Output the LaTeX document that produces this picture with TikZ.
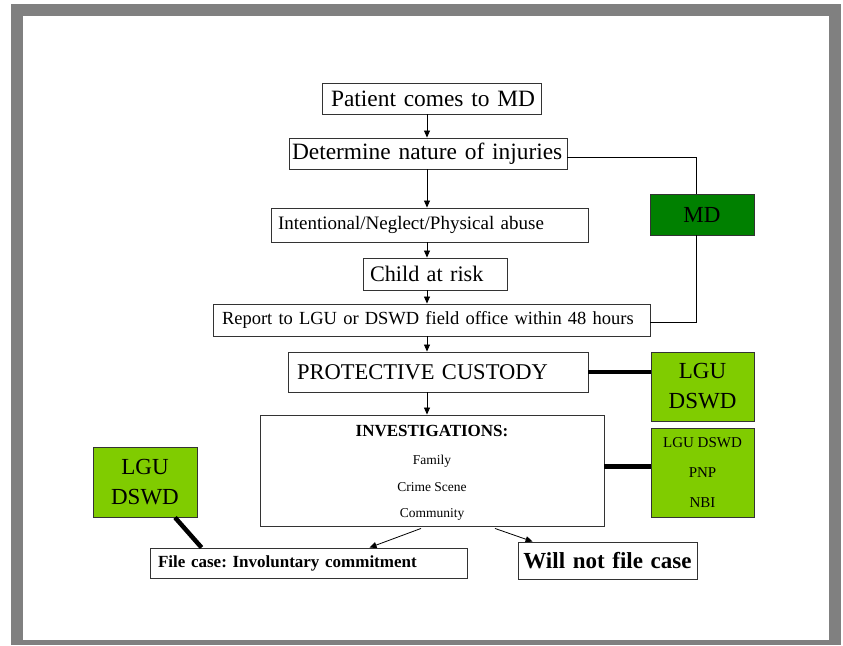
\documentclass[tikz,border=0pt]{standalone}
\usepackage{fontspec}
\setmainfont{Liberation Serif}
\frenchspacing
\usetikzlibrary{arrows.meta, positioning, calc}
\definecolor{mdgreen}{RGB}{0,128,0}
\definecolor{lgugreen}{RGB}{128,204,0}
\definecolor{framegray}{RGB}{128,128,128}
\tikzset{
    flowbox/.style={draw=black!80, line width=0.9pt, fill=white, inner ysep=0pt, inner xsep=8pt, align=left},
    agencybox/.style={draw=black!80, line width=0.9pt, fill=lgugreen, inner sep=0pt, align=center,
        minimum width=103pt},
    arr/.style={line width=0.8pt, -{Triangle[length=7pt,width=6pt]}},
    link/.style={line width=0.8pt},
    heavy/.style={line width=4.5pt}
}
\begin{document}
\begin{tikzpicture}[x=1pt, y=-1pt]
    \useasboundingbox (0,0) rectangle (843,645);
    \fill[framegray] (11,4) rectangle (841,645);
    \fill[white] (23,16) rectangle (829,640);
    \coordinate (spine) at (427,0);
    % main column
    \node[flowbox, text width=201pt, inner xsep=9pt, minimum height=31pt, font=\fontsize{23.4}{28}\selectfont]
        (pat) at (431.5,98.5) {\mbox{Patient comes to MD}};
    \node[flowbox, text width=272pt, inner xsep=3pt, minimum height=31pt, font=\fontsize{23.4}{28}\selectfont]
        (det) at (428,153.5) {\mbox{Determine nature of injuries}};
    \node[flowbox, text width=303pt, inner xsep=7pt, minimum height=34pt, font=\fontsize{19}{23}\selectfont]
        (intent) at (429.5,225) {\mbox{Intentional/Neglect/Physical abuse}};
    \node[flowbox, text width=130pt, inner xsep=7pt, minimum height=32pt, font=\fontsize{22.2}{27}\selectfont]
        (child) at (435,274) {\mbox{Child at risk}};
    \node[flowbox, text width=419pt, inner xsep=9pt, minimum height=32pt, font=\fontsize{18.5}{23}\selectfont]
        (report) at (431.5,320) {\mbox{Report to LGU or DSWD field office within 48 hours}};
    \node[flowbox, text width=282pt, inner xsep=9pt, minimum height=40pt, font=\fontsize{22.5}{27}\selectfont]
        (prot) at (438,372) {\mbox{PROTECTIVE CUSTODY}};
    \node[flowbox, minimum width=344pt, minimum height=111pt] (inv) at (432,470.5) {};
    \node[anchor=base, font=\bfseries\fontsize{17}{20}\selectfont] (invhead) at (432,436.5) {INVESTIGATIONS:};
    \node[anchor=base, font=\fontsize{13.5}{16}\selectfont] (invfam) at (432,464.5) {Family};
    \node[anchor=base, font=\fontsize{13.5}{16}\selectfont] (invcrime) at (432,491.5) {Crime Scene};
    \node[anchor=base, font=\fontsize{13.5}{16}\selectfont] (invcomm) at (432,517) {Community};
    \node[flowbox, text width=301pt, inner xsep=8pt, minimum height=30pt, font=\bfseries\fontsize{17}{20}\selectfont]
        (file) at (308.5,563) {\mbox{File case: Involuntary commitment}};
    \node[flowbox, text width=171pt, inner xsep=4pt, minimum height=37pt, align=center, font=\bfseries\fontsize{23}{27}\selectfont]
        (will) at (607.5,560.5) {\mbox{Will not file case}};
    % side boxes
    \node[agencybox, fill=mdgreen, minimum width=104pt, minimum height=41pt, font=\fontsize{23}{27}\selectfont]
        (md) at (702,214.5) {MD};
    \node[agencybox, minimum height=69pt, font=\fontsize{23}{30}\selectfont]
        (lguA) at (702.5,386.5) {LGU\\DSWD};
    \node[agencybox, minimum height=89pt, font=\fontsize{15}{30}\selectfont]
        (lguB) at (702.5,472.5) {LGU DSWD\\PNP\\NBI};
    \node[agencybox, minimum width=104pt, minimum height=70pt, font=\fontsize{23}{30}\selectfont]
        (lguC) at (145,482) {LGU\\DSWD};
    % arrows
    \draw[arr] (pat.south -| spine) -- (det.north -| spine);
    \draw[arr] (det.south -| spine) -- (intent.north -| spine);
    \draw[arr] (intent.south -| spine) -- (child.north -| spine);
    \draw[arr] (child.south -| spine) -- (report.north -| spine);
    \draw[arr] (report.south -| spine) -- (prot.north -| spine);
    \draw[arr] (prot.south -| spine) -- (inv.north -| spine);
    \draw[arr] ([xshift=-11pt,yshift=-2pt]inv.south) -- ([xshift=220pt]file.north west);
    \draw[arr] ([xshift=63pt,yshift=-2pt]inv.south) -- ([xshift=15pt]will.north west);
    \draw[link] ([yshift=-4pt]det.east) -| ([xshift=-6pt]md.north);
    \draw[link] ([xshift=-6pt]md.south) |- ([yshift=-2pt]report.east);
    \draw[heavy] (prot.east) -- (prot.east -| lguA.west);
    \draw[heavy] ([yshift=4pt]inv.east) -- ([yshift=4pt]inv.east -| lguB.west);
    \draw[heavy] ([xshift=30pt]lguC.south) -- ([xshift=52pt]file.north west);
\end{tikzpicture}
\end{document}
